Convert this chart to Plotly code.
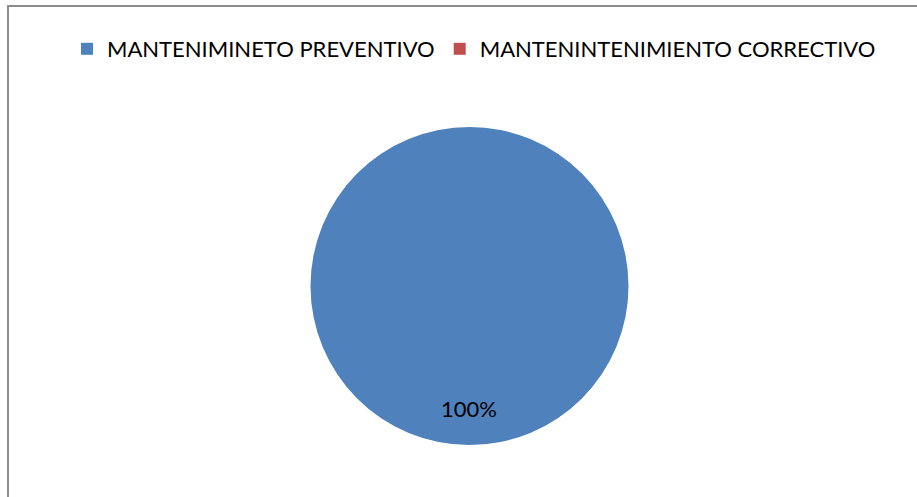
import math
import plotly.graph_objects as go

# Maintenance types and their counts
labels = ["MANTENIMINETO PREVENTIVO", "MANTENINTENIMIENTO CORRECTIVO"]
values = [100, 0]
colors = ["#4F81BD", "#C0504D"]

W, H = 917, 497
cx, cy, r = 469.5, 286, 159  # pie centre and radius in pixels
FONT = "Lato, Open Sans, sans-serif"

fig = go.Figure(
    go.Pie(
        labels=labels,
        values=values,
        marker=dict(colors=colors, line=dict(width=0)),
        sort=False,
        direction="clockwise",
        rotation=0,
        textinfo="none",
        showlegend=True,
        domain=dict(
            x=[(cx - r) / W, (cx + r) / W],
            y=[1 - (cy + r) / H, 1 - (cy - r) / H],
        ),
        hoverinfo="label+percent",
    )
)

# Percentage labels placed at each slice's mid-angle, 0.77 of the radius out
total = sum(values)
annotations = []
start = 0.0
for v in values:
    if v <= 0:
        continue
    frac = v / total
    mid = (start + frac / 2) * 2 * math.pi  # clockwise from 12 o'clock
    start += frac
    px = cx + 0.77 * r * math.sin(mid)
    py = cy - 0.77 * r * math.cos(mid)
    annotations.append(
        dict(
            x=px / W,
            y=1 - py / H,
            xref="paper",
            yref="paper",
            text=f"{frac:.0%}",
            showarrow=False,
            font=dict(family=FONT, size=22, color="#000000"),
            xanchor="center",
            yanchor="middle",
        )
    )

fig.update_layout(
    width=W,
    height=H,
    margin=dict(l=0, r=0, t=0, b=0),
    paper_bgcolor="white",
    plot_bgcolor="white",
    font=dict(family=FONT, size=22, color="#000000"),
    legend=dict(
        orientation="h",
        x=474 / W,
        xanchor="center",
        y=1 - 28 / H,
        yanchor="top",
        font=dict(size=22),
        itemclick=False,
        itemdoubleclick=False,
        traceorder="normal",
        itemwidth=30,
    ),
    annotations=annotations,
    shapes=[
        dict(
            type="rect",
            xref="paper",
            yref="paper",
            x0=8 / W,
            x1=1.02,
            y0=-0.02,
            y1=1 - 6 / H,
            line=dict(color="#8C8C8C", width=2),
            fillcolor="rgba(0,0,0,0)",
            layer="below",
        )
    ],
)

fig.write_html("out.html")
